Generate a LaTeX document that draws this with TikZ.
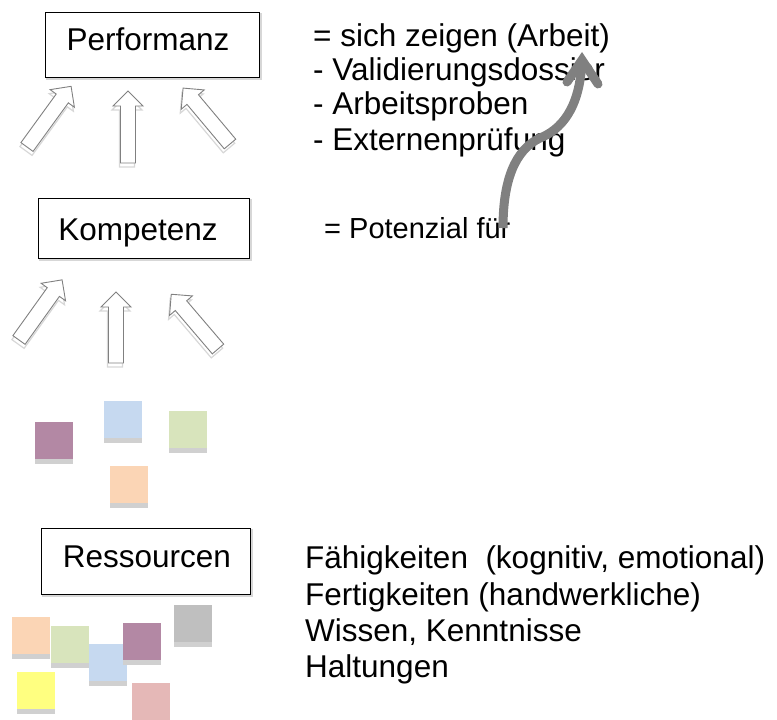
\documentclass[tikz,border=0pt]{standalone}
\usepackage{fontspec}
\setmainfont{Liberation Sans}
\definecolor{npurple}{RGB}{179,136,164}
\definecolor{nblue}{RGB}{198,217,240}
\definecolor{ngreen}{RGB}{216,228,188}
\definecolor{norange}{RGB}{251,213,181}
\definecolor{ngray}{RGB}{191,191,191}
\definecolor{nyellow}{RGB}{255,255,128}
\definecolor{npink}{RGB}{229,184,183}
\definecolor{nstrip}{RGB}{208,208,208}
\definecolor{arrgray}{RGB}{128,128,128}
\definecolor{shadowgray}{RGB}{215,215,215}
\newcommand{\blockarr}[4]{%
  \begin{scope}[shift={(#1,#2)}]
    \draw[blkshadow, shift={(-1,4)}, rotate=#3] (0,-7.5) -- ({#4-15},-7.5) -- ({#4-15},-15) -- (#4,0) -- ({#4-15},15) -- ({#4-15},7.5) -- (0,7.5) -- cycle;
    \draw[blk, rotate=#3] (0,-7.5) -- ({#4-15},-7.5) -- ({#4-15},-15) -- (#4,0) -- ({#4-15},15) -- ({#4-15},7.5) -- (0,7.5) -- cycle;
  \end{scope}}
\newcommand{\stickynote}[3]{%
  \fill[nstrip] (#1,{#2+37}) rectangle ({#1+38},{#2+42});
  \fill[#3] (#1,#2) rectangle ({#1+38},{#2+37});}
\begin{document}
\begin{tikzpicture}[x=1pt,y=-1pt,
  blk/.style={draw=arrgray, line width=0.9pt, fill=white, line join=miter},
  blkshadow/.style={draw=shadowgray, line width=1.2pt},
  boxframe/.style={draw=black, line width=1.3pt, fill=white},
  boxshadow/.style={draw=shadowgray, line width=1.5pt},
  lbl/.style={inner sep=0pt, anchor=base west, font=\fontsize{31.5}{36}\selectfont},
  boxlbl/.style={inner sep=0pt, anchor=base, font=\fontsize{31.5}{36}\selectfont},
  curvearr/.style={draw=arrgray, line width=9pt}]
\useasboundingbox (0,0) rectangle (777,720);

% boxes
\draw[boxshadow] (47,14) rectangle (261,79);
\node[boxframe, minimum width=214pt, minimum height=65pt, anchor=north west] (perfbox) at (45,12) {};
\node[boxlbl] (perf) at (148,50) {Performanz};

\draw[boxshadow] (40,200) rectangle (251,260);
\node[boxframe, minimum width=211pt, minimum height=60pt, anchor=north west] (kompbox) at (38,198) {};
\node[boxlbl] (komp) at (138,240) {Kompetenz};

\draw[boxshadow] (43,530) rectangle (252,596);
\node[boxframe, minimum width=209pt, minimum height=66pt, anchor=north west] (resbox) at (41,528) {};
\node[boxlbl] (res) at (147,567) {Ressourcen};

% right texts
\node[lbl] (t1) at (313,46) {= sich zeigen (Arbeit)};
\node[lbl] (t2) at (313,80) {- Validierungsdossier};
\node[lbl] (t3) at (313,114) {- Arbeitsproben};
\node[lbl] (t4) at (313,150) {- Externenprüfung};
\node[lbl, font=\fontsize{29}{34}\selectfont] (pot) at (324,238) {= Potenzial für};

\node[lbl] (r1) at (305,568) {Fähigkeiten\ \ (kognitiv, emotional)};
\node[lbl] (r2) at (305,605) {Fertigkeiten (handwerkliche)};
\node[lbl] (r3) at (305,641) {Wissen, Kenntnisse};
\node[lbl] (r4) at (305,677) {Haltungen};

% block arrows, top row
\blockarr{27}{147}{54}{75}
\blockarr{128}{163}{90}{72}
\blockarr{230}{144}{130}{73}
% block arrows, second row
\blockarr{19}{340}{54.4}{74}
\blockarr{116}{363}{90}{71}
\blockarr{218}{349}{130.5}{72}

% sticky notes middle
\stickynote{35}{422}{npurple}
\stickynote{104}{401}{nblue}
\stickynote{169}{411}{ngreen}
\stickynote{110}{466}{norange}

% sticky notes bottom
\stickynote{12}{617}{norange}
\stickynote{51}{626}{ngreen}
\stickynote{89}{644}{nblue}
\stickynote{123}{623}{npurple}
\stickynote{174}{605}{ngray}
\stickynote{17}{672}{nyellow}
\stickynote{132}{683}{npink}

% curved arrow
\coordinate (cstart) at (503,228);
\coordinate (ctip) at (582,60);
\draw[curvearr] (cstart) .. controls (503,180) and (515,150) .. (540,138) .. controls (560,130) and (580,110) .. (ctip);
\draw[curvearr, line join=miter, line cap=round] (567,82) -- (ctip) -- (598,84);
\end{tikzpicture}
\end{document}
